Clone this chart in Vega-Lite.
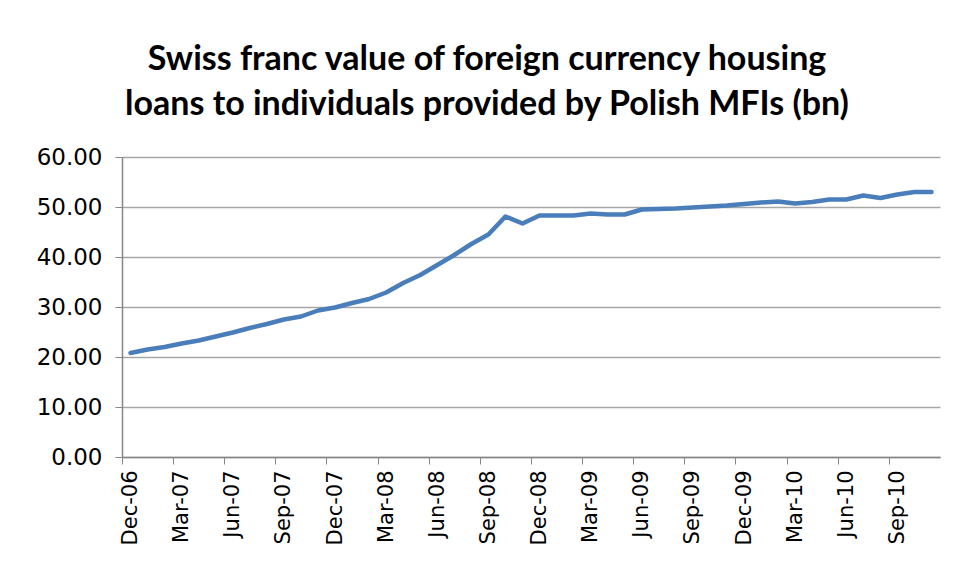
{
  "$schema": "https://vega.github.io/schema/vega-lite/v6.json",
  "autosize": "none",
  "width": 818,
  "height": 300,
  "padding": {"left": 122, "top": 157, "right": 16, "bottom": 126},
  "background": "white",
  "title": {
    "text": ["Swiss franc value of foreign currency housing", "loans to individuals provided by Polish MFIs (bn)"],
    "font": "Lato",
    "fontSize": 34,
    "fontWeight": "bold",
    "color": "#000000",
    "anchor": "middle",
    "frame": "group",
    "dx": -44,
    "offset": 24,
    "lineHeight": 45
  },
  "data": {
    "values": [
      {"month": "Dec-06", "value": 20.8},
      {"month": "Jan-07", "value": 21.5},
      {"month": "Feb-07", "value": 22.0},
      {"month": "Mar-07", "value": 22.7},
      {"month": "Apr-07", "value": 23.3},
      {"month": "May-07", "value": 24.1},
      {"month": "Jun-07", "value": 24.9},
      {"month": "Jul-07", "value": 25.8},
      {"month": "Aug-07", "value": 26.6},
      {"month": "Sep-07", "value": 27.5},
      {"month": "Oct-07", "value": 28.1},
      {"month": "Nov-07", "value": 29.3},
      {"month": "Dec-07", "value": 29.9},
      {"month": "Jan-08", "value": 30.8},
      {"month": "Feb-08", "value": 31.6},
      {"month": "Mar-08", "value": 32.9},
      {"month": "Apr-08", "value": 34.8},
      {"month": "May-08", "value": 36.4},
      {"month": "Jun-08", "value": 38.4},
      {"month": "Jul-08", "value": 40.4},
      {"month": "Aug-08", "value": 42.6},
      {"month": "Sep-08", "value": 44.5},
      {"month": "Oct-08", "value": 48.1},
      {"month": "Nov-08", "value": 46.7},
      {"month": "Dec-08", "value": 48.3},
      {"month": "Jan-09", "value": 48.3},
      {"month": "Feb-09", "value": 48.3},
      {"month": "Mar-09", "value": 48.7},
      {"month": "Apr-09", "value": 48.5},
      {"month": "May-09", "value": 48.5},
      {"month": "Jun-09", "value": 49.5},
      {"month": "Jul-09", "value": 49.6},
      {"month": "Aug-09", "value": 49.7},
      {"month": "Sep-09", "value": 49.9},
      {"month": "Oct-09", "value": 50.1},
      {"month": "Nov-09", "value": 50.3},
      {"month": "Dec-09", "value": 50.6},
      {"month": "Jan-10", "value": 50.9},
      {"month": "Feb-10", "value": 51.1},
      {"month": "Mar-10", "value": 50.7},
      {"month": "Apr-10", "value": 51.0},
      {"month": "May-10", "value": 51.5},
      {"month": "Jun-10", "value": 51.5},
      {"month": "Jul-10", "value": 52.3},
      {"month": "Aug-10", "value": 51.8},
      {"month": "Sep-10", "value": 52.5},
      {"month": "Oct-10", "value": 53.0},
      {"month": "Nov-10", "value": 53.0}
    ]
  },
  "mark": {"type": "line", "color": "#4a7ebb", "strokeWidth": 4.5, "strokeJoin": "round", "strokeCap": "round"},
  "encoding": {
    "x": {
      "field": "month",
      "type": "ordinal",
      "sort": null,
      "scale": {"type": "point", "padding": 0.5},
      "axis": {
        "title": null,
        "values": ["Dec-06", "Mar-07", "Jun-07", "Sep-07", "Dec-07", "Mar-08", "Jun-08", "Sep-08", "Dec-08", "Mar-09", "Jun-09", "Sep-09", "Dec-09", "Mar-10", "Jun-10", "Sep-10"],
        "labelAngle": -90,
        "labelAlign": "right",
        "labelBaseline": "middle",
        "labelFont": "DejaVu Sans",
        "labelFontSize": 21,
        "labelColor": "#000000",
        "labelPadding": 6,
        "tickOffset": -8.6,
        "labelOffset": 8.6,
        "tickSize": 7,
        "tickColor": "#868686",
        "domainColor": "#868686",
        "domainWidth": 1.5,
        "grid": false
      }
    },
    "y": {
      "field": "value",
      "type": "quantitative",
      "scale": {"domain": [0, 60], "nice": false},
      "axis": {
        "title": null,
        "values": [0, 10, 20, 30, 40, 50, 60],
        "format": ".2f",
        "labelFont": "DejaVu Sans",
        "labelFontSize": 23,
        "labelColor": "#000000",
        "labelPadding": 13,
        "tickSize": 7,
        "tickColor": "#868686",
        "domainColor": "#868686",
        "domainWidth": 1.5,
        "grid": true,
        "gridColor": "#a6a6a6",
        "gridWidth": 1.5
      }
    }
  },
  "config": {"view": {"stroke": null}}
}
